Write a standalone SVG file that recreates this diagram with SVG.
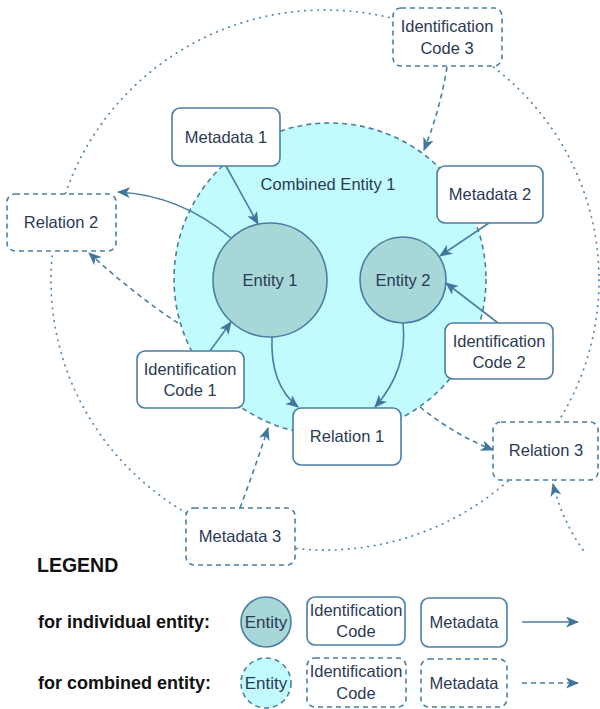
<svg xmlns="http://www.w3.org/2000/svg" width="600" height="709" viewBox="0 0 600 709">
<style>
.bg{fill:#ffffff}
.txt{font-family:"Liberation Sans",Arial,sans-serif;font-size:16.5px;fill:#2b3a56;text-anchor:middle;dominant-baseline:central}
.leg{font-family:"Liberation Sans",Arial,sans-serif;font-weight:bold;fill:#111111;dominant-baseline:central}
.box{fill:#ffffff;stroke:#4a7fa3;stroke-width:1.6}
.dbox{fill:#ffffff;stroke:#4a7fa3;stroke-width:1.6;stroke-dasharray:5 4}
.ent{fill:#a8d7d8;stroke:#4a7fa3;stroke-width:1.6}
.comb{fill:#c1fbfd;stroke:#4a7fa3;stroke-width:1.6;stroke-dasharray:5 4}
.con{fill:none;stroke:#4a7fa3;stroke-width:1.6}
.dcon{fill:none;stroke:#4a7fa3;stroke-width:1.6;stroke-dasharray:5 4}
.dot{fill:none;stroke:#5a8cae;stroke-width:1.8;stroke-dasharray:0.5 6;stroke-linecap:round}
</style>
<defs>
<marker id="ah" markerUnits="userSpaceOnUse" markerWidth="13" markerHeight="11" refX="12" refY="5.5" orient="auto">
<path d="M0,0 L13,5.5 L0,11 L3.5,5.5 z" fill="#3f769c"/>
</marker>
</defs>
<rect class="bg" x="0" y="0" width="600" height="709"/>
<g id="outer-ring">
<ellipse class="dot" cx="325" cy="280" rx="274" ry="270"/>
</g>
<g id="combined-entity-1">
<circle class="comb" cx="330" cy="279" r="156"/>
<text class="txt" x="328" y="184">Combined Entity 1</text>
</g>
<g id="entity-1">
<circle class="ent" cx="270" cy="280" r="57"/>
<text class="txt" x="270" y="280">Entity 1</text>
</g>
<g id="entity-2">
<circle class="ent" cx="403" cy="280" r="43"/>
<text class="txt" x="403" y="280">Entity 2</text>
</g>
<g id="connectors">
<path class="con" d="M226,166 L258,224" marker-end="url(#ah)"/>
<path class="con" d="M231,238 Q180,195 118,192" marker-end="url(#ah)"/>
<path class="dcon" d="M178,323 Q135,295 89,253" marker-end="url(#ah)"/>
<path class="dcon" d="M447,67 Q440,110 424,150" marker-end="url(#ah)"/>
<path class="con" d="M489,223 L440,256" marker-end="url(#ah)"/>
<path class="con" d="M498,323 L446,283" marker-end="url(#ah)"/>
<path class="con" d="M210,351 L231,322" marker-end="url(#ah)"/>
<path class="con" d="M272,337 Q270,385 298,407" marker-end="url(#ah)"/>
<path class="con" d="M403,323 Q408,370 375,407" marker-end="url(#ah)"/>
<path class="dcon" d="M240,508 Q255,468 268,428" marker-end="url(#ah)"/>
<path class="dcon" d="M420,407 Q455,435 493,450" marker-end="url(#ah)"/>
<path class="dot" d="M583,550 Q562,520 553,484" marker-end="url(#ah)"/>
</g>
<g id="metadata-1">
<rect class="box" x="172" y="108" width="108" height="58" rx="8"/>
<text class="txt" x="226" y="137">Metadata 1</text>
</g>
<g id="relation-2">
<rect class="dbox" x="7" y="194" width="109" height="57" rx="8"/>
<text class="txt" x="61" y="222">Relation 2</text>
</g>
<g id="identification-code-3">
<rect class="dbox" x="393" y="8" width="109" height="58" rx="8"/>
<text class="txt" x="447" y="26">Identification</text>
<text class="txt" x="447" y="48">Code 3</text>
</g>
<g id="metadata-2">
<rect class="box" x="437" y="166" width="106" height="57" rx="8"/>
<text class="txt" x="490" y="194">Metadata 2</text>
</g>
<g id="identification-code-1">
<rect class="box" x="137" y="351" width="107" height="57" rx="8"/>
<text class="txt" x="190" y="369">Identification</text>
<text class="txt" x="190" y="390">Code 1</text>
</g>
<g id="identification-code-2">
<rect class="box" x="445" y="323" width="108" height="56" rx="8"/>
<text class="txt" x="499" y="341">Identification</text>
<text class="txt" x="499" y="362">Code 2</text>
</g>
<g id="relation-1">
<rect class="box" x="293" y="408" width="108" height="57" rx="8"/>
<text class="txt" x="347" y="436">Relation 1</text>
</g>
<g id="relation-3">
<rect class="dbox" x="493" y="422" width="105" height="58" rx="8"/>
<text class="txt" x="546" y="450">Relation 3</text>
</g>
<g id="metadata-3">
<rect class="dbox" x="186" y="508" width="109" height="57" rx="8"/>
<text class="txt" x="240" y="536">Metadata 3</text>
</g>
<g id="legend">
<text class="leg" x="37" y="565" font-size="19.5">LEGEND</text>
<text class="leg" x="38" y="622" font-size="18">for individual entity:</text>
<text class="leg" x="38" y="683" font-size="18">for combined entity:</text>
<circle class="ent" cx="266" cy="622" r="25"/>
<text class="txt" x="266" y="622" style="font-size:17px">Entity</text>
<circle class="comb" cx="266" cy="683" r="25"/>
<text class="txt" x="266" y="683" style="font-size:17px">Entity</text>
<rect class="box" x="307" y="597" width="98" height="48" rx="8"/>
<text class="txt" x="356" y="610">Identification</text>
<text class="txt" x="356" y="631">Code</text>
<rect class="box" x="421" y="598" width="86" height="49" rx="8"/>
<text class="txt" x="464" y="622">Metadata</text>
<path class="con" d="M522,622 L578,622" marker-end="url(#ah)"/>
<rect class="dbox" x="307" y="658" width="99" height="49" rx="8"/>
<text class="txt" x="356" y="671">Identification</text>
<text class="txt" x="356" y="693">Code</text>
<rect class="dbox" x="421" y="659" width="86" height="48" rx="8"/>
<text class="txt" x="464" y="683">Metadata</text>
<path class="dcon" d="M522,683 L578,683" marker-end="url(#ah)"/>
</g>
</svg>
